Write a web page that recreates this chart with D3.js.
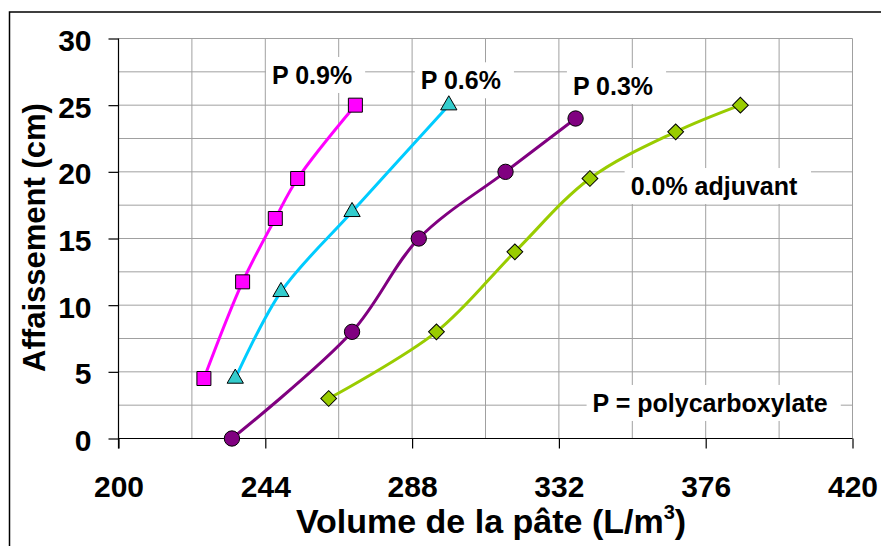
<!DOCTYPE html>
<html>
<head>
<meta charset="utf-8">
<script src="https://cdn.jsdelivr.net/npm/d3@7/dist/d3.min.js"></script>
<style>
  html, body { margin: 0; padding: 0; background: #fff; }
  svg { display: block; }
  text { font-family: "Liberation Sans", Arial, sans-serif; font-weight: bold; fill: #000; }
</style>
</head>
<body>
<svg id="chart" width="881" height="546"></svg>
<script>
// ---- data ----
const xTicks = [200, 244, 288, 332, 376, 420];
const xMinor = [222, 266, 310, 354, 398];
const yTicks = [0, 5, 10, 15, 20, 25, 30];
const yMinor = [2.5, 7.5, 12.5, 17.5, 22.5, 27.5];

const p09X = [225.6, 237.2, 247.0, 253.7, 271.0];
const p09Y = [4.5, 11.75, 16.5, 19.5, 25];
const p06X = [235.0, 248.7, 270.0, 299.0];
const p06Y = [4.5, 11, 17, 25];
const p03X = [234.0, 270.0, 290.0, 316.0, 337.0];
const p03Y = [0, 8, 15, 20, 24];
const p00X = [263.0, 295.3, 318.8, 341.3, 367.0, 386.4];
const p00Y = [3, 8, 14, 19.5, 23, 25];

const labelTexts = ["P 0.9%", "P 0.6%", "P 0.3%", "0.0% adjuvant", "P = polycarboxylate"];
const labelX = [246.0, 290.6, 336.2, 353.5, 342.1];
const labelY = [26.59, 26.19, 25.76, 18.26, 1.99];

const xTitle = "Volume de la pâte (L/m";
const yTitle = "Affaissement (cm)";

// ---- chart ----
const svg = d3.select("#chart");
const x = d3.scaleLinear().domain([200, 420]).range([118.5, 852.5]);
const y = d3.scaleLinear().domain([0, 30]).range([438.5, 38.5]);

// outer frame
svg.append("rect").attr("x", 9.5).attr("y", 12).attr("width", 900).attr("height", 600)
  .attr("fill", "#fff").attr("stroke", "#000").attr("stroke-width", 1.5);

// gridlines
const grid = svg.append("g").attr("stroke", "#a0a0a0").attr("stroke-width", 1);
xMinor.concat(xTicks.slice(1)).forEach(v => {
  grid.append("line").attr("x1", x(v)).attr("x2", x(v)).attr("y1", y(30)).attr("y2", y(0));
});
yMinor.concat(yTicks.slice(1)).forEach(v => {
  grid.append("line").attr("x1", x(200)).attr("x2", x(420)).attr("y1", y(v)).attr("y2", y(v));
});

const labelsG = svg.append("g");

// axes
const xAxis = d3.axisBottom(x).tickValues(xTicks).tickSize(10).tickPadding(27.5).tickFormat(d3.format("d"));
const gx = svg.append("g").attr("transform", `translate(0,${y(0)})`).call(xAxis);
gx.select(".domain").attr("stroke", "#000").attr("stroke-width", 1.2).attr("d", `M${x(200)},0H${x(420)}`);
gx.selectAll(".tick line").attr("stroke", "#000").attr("stroke-width", 1.2);
gx.selectAll(".tick text").attr("font-size", 30).attr("font-family", '"Liberation Sans", Arial, sans-serif').attr("font-weight", "bold").attr("fill", "#000");

const yAxis = d3.axisLeft(y).tickValues(yTicks).tickSize(10).tickPadding(17).tickFormat(d3.format("d"));
const gy = svg.append("g").attr("transform", `translate(${x(200)},0)`).call(yAxis);
gy.select(".domain").attr("stroke", "#000").attr("stroke-width", 1.2).attr("d", `M0,${y(30)}V${y(0) + 10}`);
gy.selectAll(".tick line").attr("stroke", "#000").attr("stroke-width", 1.2);
gy.selectAll(".tick text").attr("font-size", 30).attr("dy", "0.4em").attr("font-family", '"Liberation Sans", Arial, sans-serif').attr("font-weight", "bold").attr("fill", "#000");

// label boxes and texts
labelTexts.forEach((t, i) => {
  const g = labelsG.append("g");
  const rect = g.append("rect").attr("fill", "#fff");
  const txt = g.append("text").attr("x", x(labelX[i])).attr("y", y(labelY[i]))
    .attr("font-size", 25).text(t);
  const b = txt.node().getBBox();
  rect.attr("x", b.x - 6).attr("y", b.y - 4).attr("width", b.width + 19).attr("height", b.height + 8);
});

// series
const series = [
  { xs: p09X, ys: p09Y, line: "#ff00ff", fill: "#ff00ff", sym: d3.symbolSquare, size: 196, rot: 0 },
  { xs: p06X, ys: p06Y, line: "#00ccff", fill: "#33cccc", sym: d3.symbolTriangle, size: 115, rot: 0 },
  { xs: p03X, ys: p03Y, line: "#800080", fill: "#800080", sym: d3.symbolCircle, size: 185, rot: 0 },
  { xs: p00X, ys: p00Y, line: "#99cc00", fill: "#99cc00", sym: d3.symbolSquare, size: 125, rot: 45 }
];
const lineGen = d3.line().x(d => x(d[0])).y(d => y(d[1])).curve(d3.curveCatmullRom.alpha(0.5));
series.forEach(s => {
  const pts = s.xs.map((v, i) => [v, s.ys[i]]);
  svg.append("path").datum(pts).attr("d", lineGen).attr("fill", "none")
    .attr("stroke", s.line).attr("stroke-width", 3);
});
series.forEach(s => {
  const pts = s.xs.map((v, i) => [v, s.ys[i]]);
  svg.append("g").selectAll("path").data(pts).join("path")
    .attr("transform", d => `translate(${x(d[0])},${y(d[1])}) rotate(${s.rot})`)
    .attr("d", d3.symbol().type(s.sym).size(s.size))
    .attr("fill", s.fill).attr("stroke", "#000").attr("stroke-width", 1);
});

// axis titles
const xt = svg.append("text").attr("x", 491).attr("y", 532.7).attr("text-anchor", "middle").attr("font-size", 34);
xt.append("tspan").text(xTitle);
xt.append("tspan").attr("font-size", 20).attr("dy", -14).text("3");
xt.append("tspan").attr("dy", 14).text(")");

svg.append("text").attr("text-anchor", "middle").attr("font-size", 31).text(yTitle)
  .attr("transform", `translate(45,237.5) rotate(-90)`);
</script>
</body>
</html>
